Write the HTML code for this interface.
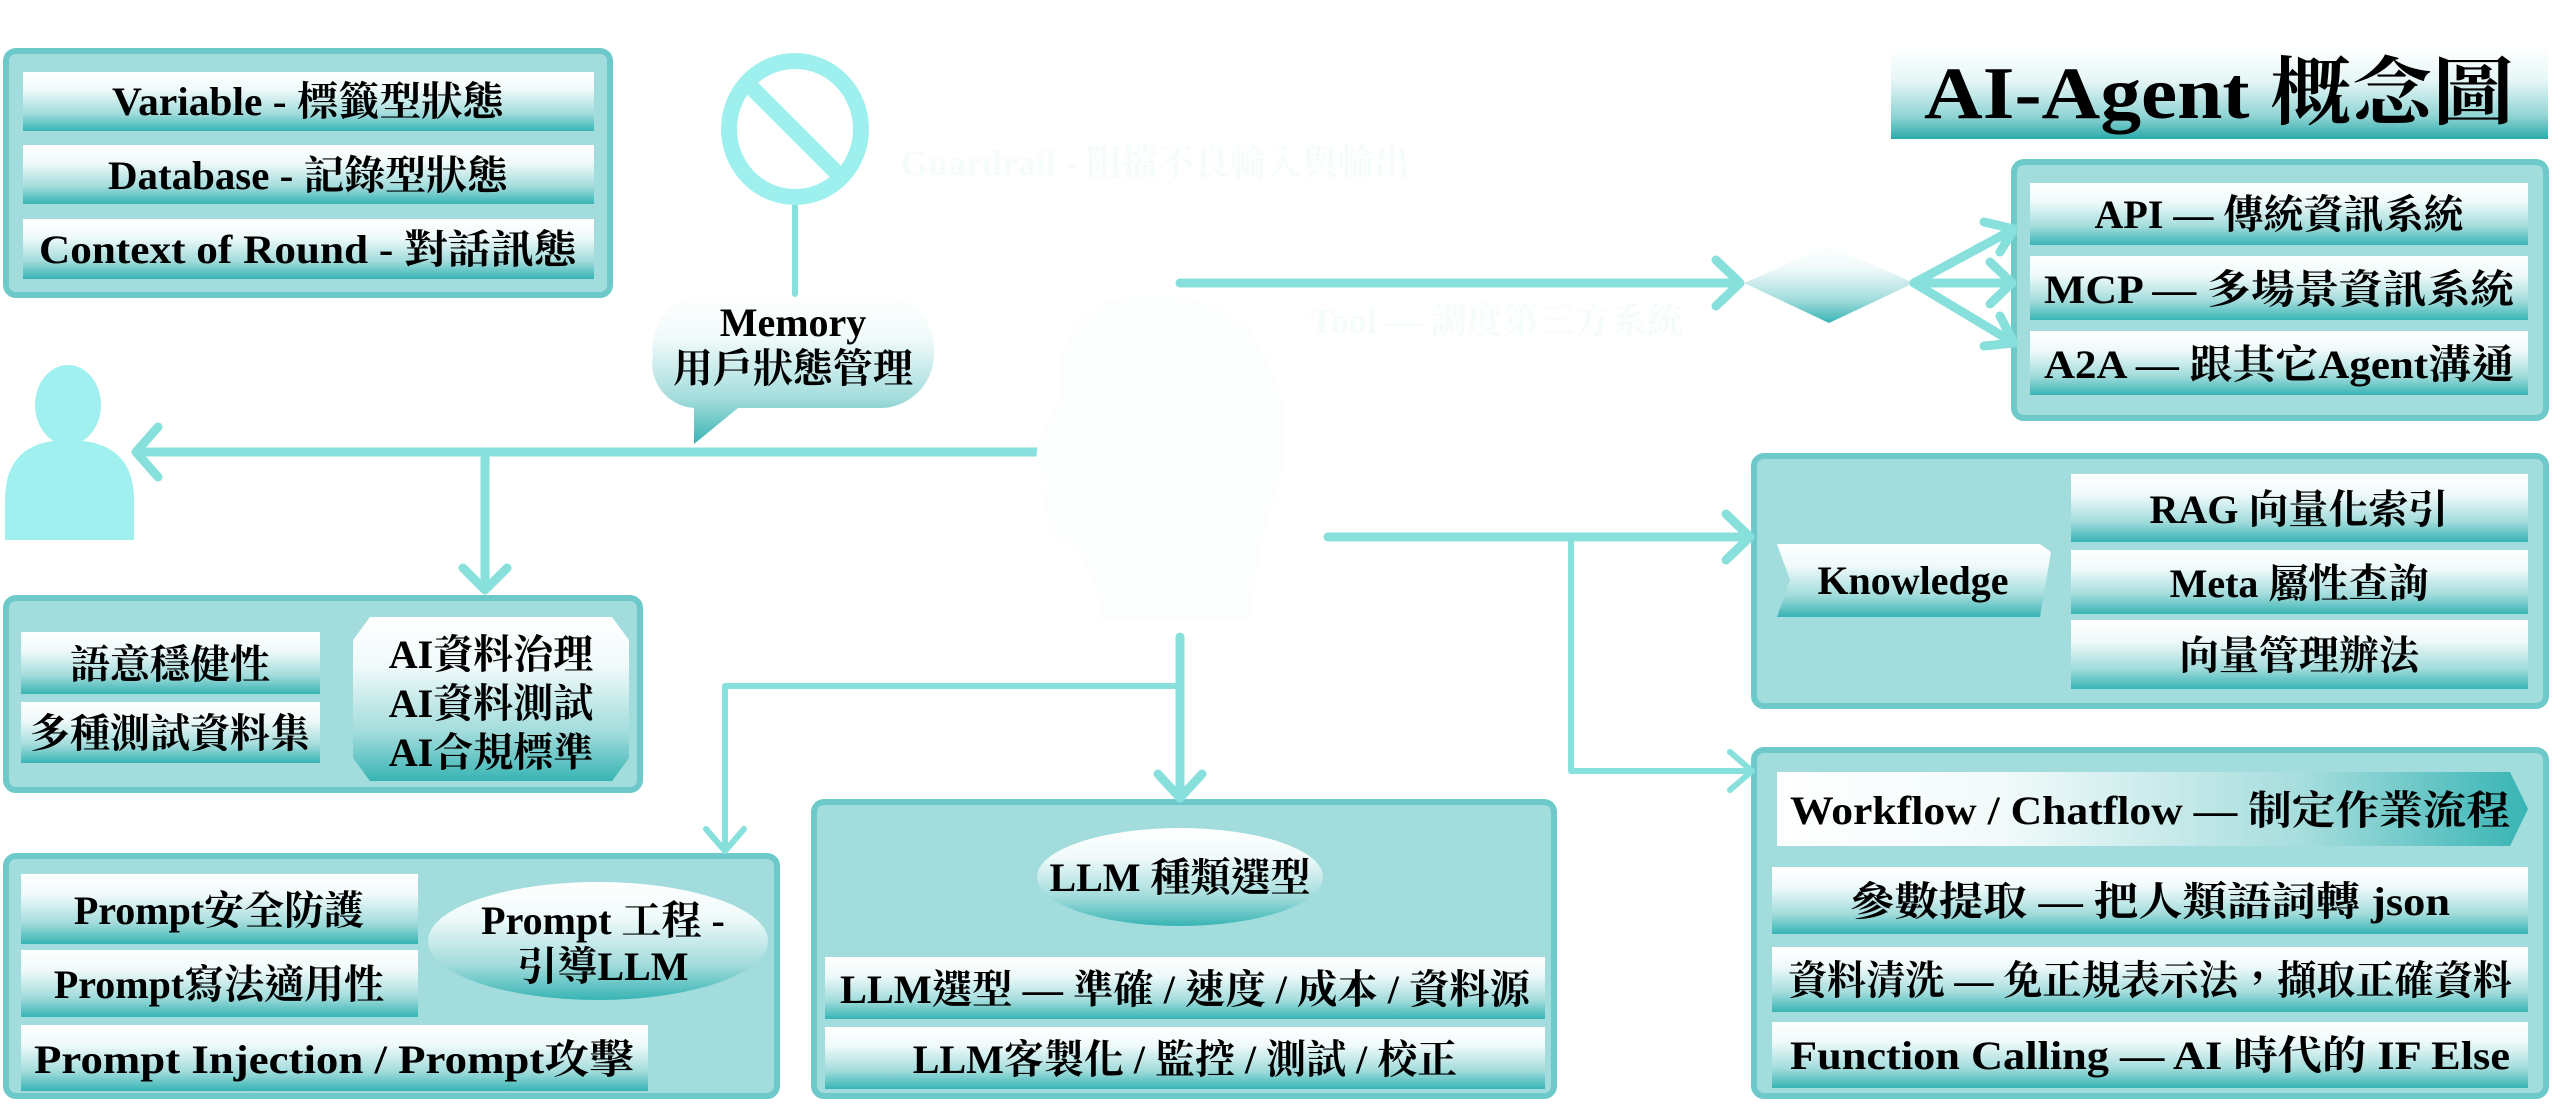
<!DOCTYPE html>
<html><head><meta charset="utf-8"><style>
html,body{margin:0;padding:0;background:#fff;}
svg{display:block;}
text{font-family:"Liberation Serif","Noto Serif CJK TC","Noto Serif CJK SC",serif;font-weight:bold;fill:#000;}
</style></head><body>
<svg width="2560" height="1104" viewBox="0 0 2560 1104" xmlns="http://www.w3.org/2000/svg">
<defs>
<linearGradient id="row" x1="0" y1="0" x2="0" y2="1">
<stop offset="0" stop-color="#ffffff"/><stop offset="0.3" stop-color="#f0fafa"/><stop offset="0.7" stop-color="#a3dcdc"/><stop offset="1" stop-color="#38b4b4"/>
</linearGradient>
<linearGradient id="hrow" x1="0" y1="0" x2="1" y2="0">
<stop offset="0" stop-color="#ffffff"/><stop offset="0.3" stop-color="#f2fafa"/><stop offset="0.7" stop-color="#a6dddd"/><stop offset="1" stop-color="#38b4b4"/>
</linearGradient>
<linearGradient id="title" x1="0" y1="0" x2="0" y2="1">
<stop offset="0" stop-color="#ffffff"/><stop offset="0.35" stop-color="#e6f6f6"/><stop offset="0.75" stop-color="#8fd4d4"/><stop offset="1" stop-color="#2ba9a9"/>
</linearGradient>
</defs>
<g fill="#a2dcdc" stroke="#6ecaca" stroke-width="6">
<rect x="6" y="51" width="604" height="244" rx="10"/>
<rect x="6" y="598" width="634" height="192" rx="10"/>
<rect x="6" y="856" width="771" height="240" rx="10"/>
<rect x="814" y="802" width="740" height="294" rx="10"/>
<rect x="2014" y="162" width="532" height="256" rx="10"/>
<rect x="1754" y="456" width="792" height="250" rx="10"/>
<rect x="1754" y="750" width="792" height="346" rx="10"/>
</g>
<g fill="url(#row)">
<rect x="23" y="72" width="571" height="59"/>
<rect x="23" y="145" width="571" height="59"/>
<rect x="23" y="219" width="571" height="60"/>
<rect x="21" y="632" width="299" height="62"/>
<rect x="21" y="702" width="299" height="61"/>
<polygon points="370,617 612,617 629,640 629,758 612,781 370,781 353,758 353,640"/>
<rect x="21" y="874" width="397" height="70"/>
<rect x="21" y="950" width="397" height="67"/>
<rect x="21" y="1025" width="627" height="66"/>
<ellipse cx="598" cy="941" rx="170" ry="59"/>
<ellipse cx="1180" cy="877" rx="143" ry="49"/>
<rect x="825" y="957" width="720" height="62"/>
<rect x="825" y="1027" width="720" height="62"/>
<rect x="2030" y="183" width="498" height="62"/>
<rect x="2030" y="256" width="498" height="64"/>
<rect x="2030" y="331" width="498" height="64"/>
<rect x="2071" y="474" width="457" height="68"/>
<rect x="2071" y="550" width="457" height="64"/>
<rect x="2071" y="620" width="457" height="69"/>
<polygon points="1777,544 2040,544 2051,552 2040,617 1777,617 1790,580"/>
<rect x="1772" y="867" width="756" height="67"/>
<rect x="1772" y="947" width="756" height="65"/>
<rect x="1772" y="1022" width="756" height="66"/>
<path d="M700,294 h180 a54,54 0 0 1 54,54 v6 a54,54 0 0 1 -54,54 h-142 l-44,36 v-36 a45,45 0 0 1 -41,-54 a54,54 0 0 1 47,-60 z"/>
<polygon points="1744,283 1829,245 1914,283 1829,323"/>
</g>
<polygon points="1777,772 2510,772 2528,809 2510,846 1777,846" fill="url(#hrow)"/>
<rect x="1891" y="49" width="657" height="90" fill="url(#title)"/>
<g stroke="#88e0dc" stroke-width="9" fill="none" stroke-linecap="round" stroke-linejoin="round">
<line x1="1037" y1="452" x2="140" y2="452"/>
<polyline points="158,427 136,452 158,477"/>
<line x1="485" y1="452" x2="485" y2="588"/>
<polyline points="463,568 485,590 507,568"/>
<line x1="1180" y1="283" x2="1738" y2="283"/>
<polyline points="1716,260 1740,283 1716,306"/>
<polyline points="1914,283 2014,229"/>
<polyline points="1984,222 2014,229 2000,252"/>
<line x1="1914" y1="283" x2="2012" y2="283"/>
<polyline points="1990,262 2012,283 1990,304"/>
<polyline points="1914,283 2014,343"/>
<polyline points="2000,316 2014,343 1984,346"/>
<line x1="1328" y1="537" x2="1748" y2="537"/>
<polyline points="1726,514 1750,537 1726,560"/>
<line x1="1180" y1="637" x2="1180" y2="796"/>
<polyline points="1158,774 1180,798 1202,774"/>
</g>
<g stroke="#88e0dc" stroke-width="6" fill="none" stroke-linecap="round" stroke-linejoin="round">
<line x1="795" y1="196" x2="795" y2="294"/>
<polyline points="1180,686 725,686 725,850"/>
<polyline points="706,829 725,851 744,829"/>
<polyline points="1571,537 1571,771 1750,771"/>
<polyline points="1730,752 1752,771 1730,790"/>
</g>
<ellipse cx="795" cy="129" rx="66" ry="68" fill="none" stroke="#9ef0ee" stroke-width="16"/>
<line x1="744" y1="80" x2="836" y2="172" stroke="#9ef0ee" stroke-width="16"/>
<ellipse cx="68" cy="405" rx="33" ry="40" fill="#9ff0ee"/>
<path d="M5,540 L5,500 Q5,440 68,440 Q134,440 134,500 L134,540 Z" fill="#9ff0ee"/>
<path d="M1110,300 Q1190,280 1250,330 Q1300,400 1280,480 Q1260,540 1250,620 L1100,620 Q1095,560 1060,540 Q1040,520 1048,480 Q1020,460 1060,400 Q1050,330 1110,300 Z" fill="#fcfefe"/>
<text x="900" y="175" font-size="36" style="fill:#f6fcfc">Guardrail - 阻擋不良輸入與輸出</text>
<text x="1310" y="333" font-size="36" style="fill:#f6fcfc">Tool — 調度第三方系統</text>
<g font-size="40" text-anchor="middle">
<text x="308" y="115" textLength="392" lengthAdjust="spacingAndGlyphs">Variable - 標籤型狀態</text>
<text x="308" y="189" textLength="400" lengthAdjust="spacingAndGlyphs">Database - 記錄型狀態</text>
<text x="308" y="263" textLength="538" lengthAdjust="spacingAndGlyphs">Context of Round - 對話訊態</text>
<text x="793" y="336">Memory</text>
<text x="793" y="382">用戶狀態管理</text>
<text x="170" y="678">語意穩健性</text>
<text x="170" y="747">多種測試資料集</text>
<text x="491" y="668">AI資料治理</text>
<text x="491" y="717">AI資料測試</text>
<text x="491" y="766">AI合規標準</text>
<text x="219" y="924">Prompt安全防護</text>
<text x="219" y="998">Prompt寫法適用性</text>
<text x="334" y="1073" textLength="600" lengthAdjust="spacingAndGlyphs">Prompt Injection / Prompt攻擊</text>
<text x="603" y="934">Prompt 工程 -</text>
<text x="603" y="980">引導LLM</text>
<text x="1180" y="891">LLM 種類選型</text>
<text x="1185" y="1003" textLength="690" lengthAdjust="spacingAndGlyphs">LLM選型 — 準確 / 速度 / 成本 / 資料源</text>
<text x="1185" y="1073">LLM客製化 / 監控 / 測試 / 校正</text>
<text x="2279" y="228">API — 傳統資訊系統</text>
<text x="2279" y="303" textLength="470" lengthAdjust="spacingAndGlyphs">MCP — 多場景資訊系統</text>
<text x="2279" y="378" textLength="470" lengthAdjust="spacingAndGlyphs">A2A — 跟其它Agent溝通</text>
<text x="2299" y="523">RAG 向量化索引</text>
<text x="2299" y="597">Meta 屬性查詢</text>
<text x="2299" y="669">向量管理辦法</text>
<text x="1913" y="594">Knowledge</text>
<text x="2150" y="824" textLength="720" lengthAdjust="spacingAndGlyphs">Workflow / Chatflow — 制定作業流程</text>
<text x="2150" y="915" textLength="600" lengthAdjust="spacingAndGlyphs">參數提取 — 把人類語詞轉 json</text>
<text x="2150" y="994" textLength="724" lengthAdjust="spacingAndGlyphs">資料清洗 — 免正規表示法，擷取正確資料</text>
<text x="2150" y="1069" textLength="720" lengthAdjust="spacingAndGlyphs">Function Calling — AI 時代的 IF Else</text>
</g>
<text x="2219" y="118" font-size="74" text-anchor="middle" textLength="590" lengthAdjust="spacingAndGlyphs">AI-Agent 概念圖</text>
</svg>
</body></html>
